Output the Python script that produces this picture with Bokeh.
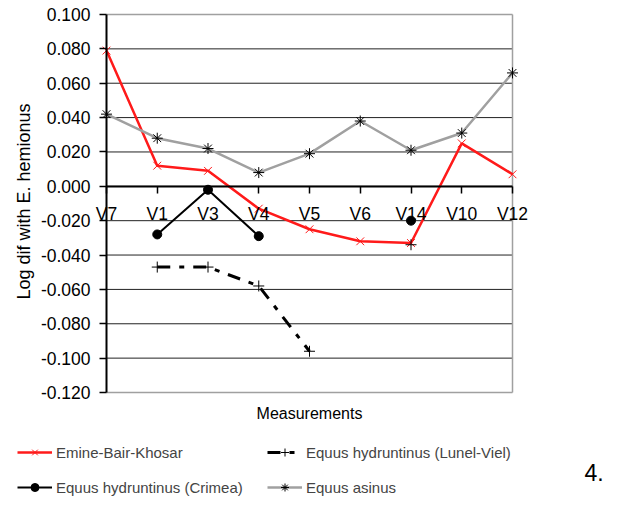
import math
from bokeh.plotting import figure
from bokeh.models import (Range1d, FixedTicker, NumeralTickFormatter, Legend,
                          LegendItem, Label)
from bokeh.embed import file_html
from bokeh.resources import INLINE

nan = float("nan")

categories = ["V7", "V1", "V3", "V4", "V5", "V6", "V14", "V10", "V12"]
emine = [0.079, 0.012, 0.009, -0.013, -0.025, -0.032, -0.033, 0.025, 0.007]
lunel = [nan, -0.047, -0.047, -0.058, -0.096, nan, -0.034, nan, nan]
crimea = [nan, -0.028, -0.002, -0.029, nan, nan, -0.020, nan, nan]
asinus = [0.042, 0.028, 0.022, 0.008, 0.019, 0.038, 0.021, 0.031, 0.066]
y_ticks = [-0.12, -0.10, -0.08, -0.06, -0.04, -0.02, 0.0, 0.02, 0.04, 0.06, 0.08, 0.10]

FONT = "Liberation Sans"
RED = "#ff1a1a"
GRAY = "#a0a0a0"
DASH = "13 9 5 9"

# canvas / plot-area geometry (pixels)
W, H = 610, 512
PL, PR, PT, PB = 106, 512, 14, 392

n = len(categories)
xs = list(range(n))
xmin, xmax = 0, n - 1
ymin, ymax = y_ticks[0], y_ticks[-1]
kx = (PR - PL) / (xmax - xmin)
ky = (PB - PT) / (ymax - ymin)

p = figure(width=W, height=H, output_backend="svg", toolbar_location=None,
           x_range=Range1d(xmin - PL / kx, xmax + (W - PR) / kx),
           y_range=Range1d(ymin - (H - PB) / ky, ymax + PT / ky),
           min_border=0)
p.background_fill_color = "white"
p.border_fill_color = "white"
p.outline_line_color = None
p.grid.visible = False

# horizontal grid lines and plot-area border
grid_y = y_ticks[1:-1]
p.segment(x0=[xmin] * len(grid_y), x1=[xmax] * len(grid_y), y0=grid_y, y1=grid_y,
          line_color="#222222", line_width=1)
p.segment(x0=[xmin, xmax, xmin], x1=[xmax, xmax, xmax], y0=[ymax, ymax, ymin],
          y1=[ymax, ymin, ymin], line_color=GRAY, line_width=1.5)

# y axis at x = first category
ya = p.yaxis[0]
ya.fixed_location = xmin
ya.bounds = (ymin, ymax)
ya.ticker = FixedTicker(ticks=y_ticks)
ya.formatter = NumeralTickFormatter(format="0.000")
ya.major_label_text_font = FONT
ya.major_label_text_font_size = "17.5px"
ya.major_label_text_color = "black"
ya.major_label_standoff = 9
ya.major_tick_in = 0
ya.major_tick_out = 7
ya.minor_tick_line_color = None
ya.axis_line_width = 2
ya.axis_line_color = "black"
ya.major_tick_line_width = 1.5

# x axis at y = 0
xa = p.xaxis[0]
xa.fixed_location = 0
xa.bounds = (xmin, xmax)
xa.ticker = FixedTicker(ticks=xs)
xa.major_label_overrides = {i: c for i, c in enumerate(categories)}
xa.major_label_text_font = FONT
xa.major_label_text_font_size = "17.5px"
xa.major_label_text_color = "black"
xa.major_label_standoff = 11
xa.major_tick_in = 0
xa.major_tick_out = 7
xa.minor_tick_line_color = None
xa.axis_line_width = 2
xa.axis_line_color = "black"
xa.major_tick_line_width = 1.5

# series
r1 = [p.line(xs, emine, line_color=RED, line_width=2.5),
      p.scatter(xs, emine, marker="x", size=11, line_color=RED, line_width=1)]
r2 = [p.line(xs, lunel, line_color="black", line_width=3, line_dash=DASH),
      p.scatter(xs, lunel, marker="cross", size=11, line_color="black", line_width=1)]
r3 = [p.line(xs, crimea, line_color="black", line_width=2),
      p.scatter(xs, crimea, marker="circle", size=9, line_color="black", fill_color="black")]
r4 = [p.line(xs, asinus, line_color=GRAY, line_width=2.5),
      p.scatter(xs, asinus, marker="asterisk", size=11, line_color="black", line_width=1)]

# legend: column-major fill -> order so rows read (Emine, Lunel), (Crimea, asinus)
legend = Legend(items=[
    LegendItem(label="Emine-Bair-Khosar", renderers=r1),
    LegendItem(label="Equus hydruntinus (Crimea)", renderers=r3),
    LegendItem(label="Equus hydruntinus (Lunel-Viel)", renderers=r2),
    LegendItem(label="Equus asinus", renderers=r4),
], location=(17, H - 497), ncols=2)
legend.label_text_font = FONT
legend.label_text_font_size = "15px"
legend.glyph_width = 35
legend.glyph_height = 20
legend.label_height = 20
legend.label_width = 196
legend.label_standoff = 4
legend.spacing = 15
legend.padding = 0
legend.margin = 0
legend.border_line_alpha = 0
legend.background_fill_alpha = 0
p.add_layout(legend)

p.add_layout(Label(x=23, y=H - 201, x_units="screen", y_units="screen",
                   text="Log dif with E. hemionus", angle=math.pi / 2,
                   text_align="center", text_baseline="middle", text_font=FONT,
                   text_font_size="18px", text_color="black"))
p.add_layout(Label(x=(PL + PR) / 2, y=H - 413, x_units="screen", y_units="screen",
                   text="Measurements", text_align="center", text_baseline="middle",
                   text_font=FONT, text_font_size="16px", text_color="black"))
p.add_layout(Label(x=584, y=H - 472, x_units="screen", y_units="screen", text="4.",
                   text_align="left", text_baseline="middle", text_font=FONT,
                   text_font_size="23px", text_color="black"))

open("out.html", "w").write(file_html(p, INLINE))
